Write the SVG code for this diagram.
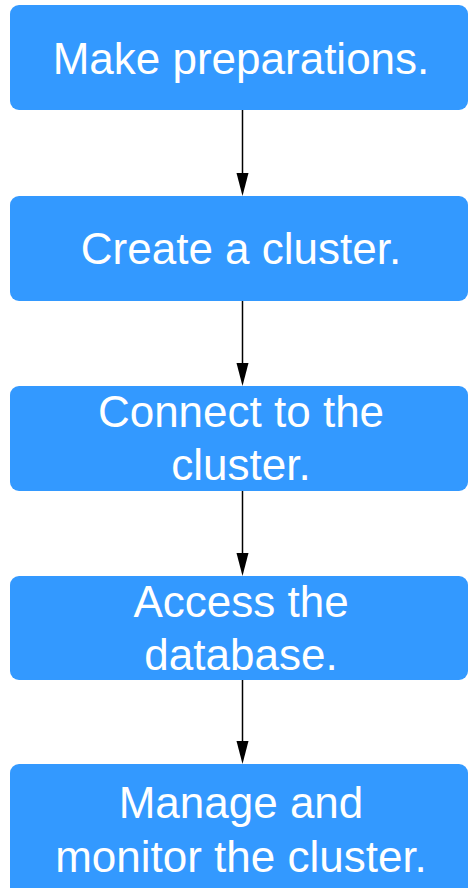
<svg xmlns="http://www.w3.org/2000/svg" width="469" height="888" viewBox="0 0 469 888">
<style>
.box{fill:#3399ff}
.t{font-family:"Liberation Sans",Arial,sans-serif;font-size:44px;fill:#ffffff;text-anchor:middle}
.c{stroke:#000;stroke-width:1.5;fill:none}
.ah{fill:#000}
</style>
<rect width="469" height="888" fill="#ffffff"/>
<g id="connectors">
<line class="c" x1="242.5" y1="110" x2="242.5" y2="174"/>
<path class="ah" d="M236.5,173 L248.5,173 L242.5,196 Z"/>
<line class="c" x1="242.5" y1="301" x2="242.5" y2="364"/>
<path class="ah" d="M236.5,363 L248.5,363 L242.5,386 Z"/>
<line class="c" x1="242.5" y1="491" x2="242.5" y2="554"/>
<path class="ah" d="M236.5,553 L248.5,553 L242.5,576 Z"/>
<line class="c" x1="242.5" y1="680" x2="242.5" y2="742"/>
<path class="ah" d="M236.5,741 L248.5,741 L242.5,764 Z"/>
</g>
<g id="n1">
<rect class="box" x="10" y="5" width="458" height="105" rx="9"/>
<text class="t" x="241" y="74">Make preparations.</text>
</g>
<g id="n2">
<rect class="box" x="10" y="196" width="458" height="105" rx="9"/>
<text class="t" x="241" y="264">Create a cluster.</text>
</g>
<g id="n3">
<rect class="box" x="10" y="386" width="458" height="105" rx="9"/>
<text class="t" x="241" y="427">Connect to the</text>
<text class="t" x="241" y="480">cluster.</text>
</g>
<g id="n4">
<rect class="box" x="10" y="576" width="458" height="104" rx="9"/>
<text class="t" x="241" y="617">Access the</text>
<text class="t" x="241" y="670">database.</text>
</g>
<g id="n5">
<rect class="box" x="10" y="764" width="458" height="140" rx="9"/>
<text class="t" x="241" y="818">Manage and</text>
<text class="t" x="241" y="871.5">monitor the cluster.</text>
</g>
</svg>
